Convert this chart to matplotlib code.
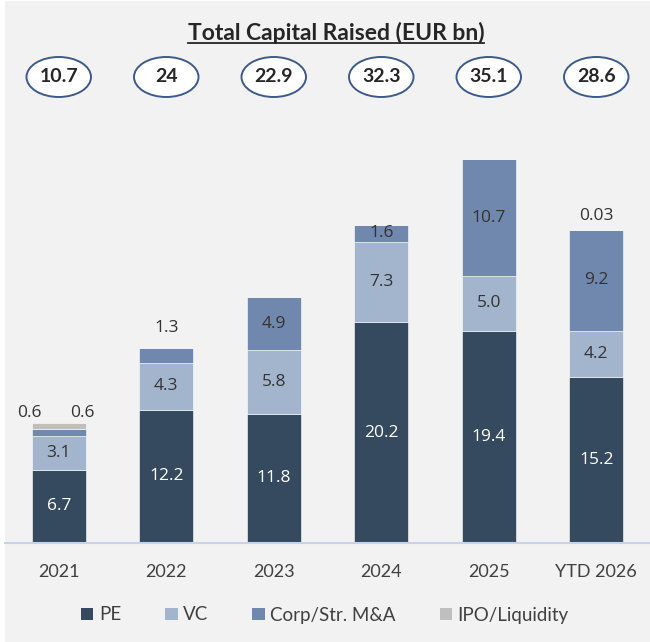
import numpy as np
import matplotlib
matplotlib.use("Agg")
import matplotlib.pyplot as plt
from matplotlib.patches import Ellipse, Patch, Rectangle
from matplotlib.lines import Line2D
import matplotlib.transforms as mtransforms

# data
years = ["2021", "2022", "2023", "2024", "2025", "YTD 2026"]
totals = ["10.7", "24", "22.9", "32.3", "35.1", "28.6"]
pe = [6.7, 12.2, 11.8, 20.2, 19.4, 15.2]
vc = [3.1, 4.3, 5.8, 7.3, 5.0, 4.2]
corp = [0.6, 1.3, 4.9, 1.6, 10.7, 9.2]
ipo = [0.6, 0.0, 0.0, 0.0, 0.0, 0.03]
series = [("PE", pe), ("VC", vc), ("Corp/Str. M&A", corp), ("IPO/Liquidity", ipo)]

colors = ["#35495f", "#a3b5cc", "#7088ad", "#bfbfbf"]
label_colors = ["white", "#333333", "#333333", "#333333"]
bg = "#f2f2f2"
FONT = "Lato"
LABEL_FONT = "Open Sans"

fig = plt.figure(figsize=(6.5, 6.42), dpi=100)
fig.patch.set_facecolor("white")
fig.patches.append(Rectangle((5 / 650, 0), 645 / 650, 641 / 642, transform=fig.transFigure,
                             facecolor=bg, edgecolor="none", zorder=-10))

ax = fig.add_axes([5 / 650, 99 / 642, 645 / 650, 443 / 642])
ax.set_facecolor("none")

x = np.arange(len(years))
bottom = np.zeros(len(years))
for k, (name, vals) in enumerate(series):
    vals = np.array(vals)
    ax.bar(x, vals, width=0.5, bottom=bottom, color=colors[k], edgecolor="white",
           linewidth=0.4, label=name)
    for i, v in enumerate(vals):
        if v <= 0:
            continue
        txt = f"{v:.2f}" if v < 0.1 else f"{v:.1f}"
        if v >= 1.5:
            ax.text(i, bottom[i] + v / 2, txt, ha="center", va="center",
                    color=label_colors[k], fontsize=12.5, family=LABEL_FONT)
    bottom = bottom + vals

# small segments labelled above the bars
tops = np.array(pe) + np.array(vc) + np.array(corp) + np.array(ipo)
ax.text(0 - 0.27, tops[0] + 0.9, "0.6", ha="center", va="center", color="#333333",
        fontsize=12.5, family=LABEL_FONT)
ax.text(0 + 0.22, tops[0] + 0.9, "0.6", ha="center", va="center", color="#333333",
        fontsize=12.5, family=LABEL_FONT)
ax.text(1, tops[1] + 1.9, f"{corp[1]:.1f}", ha="center", va="center", color="#333333",
        fontsize=12.5, family=LABEL_FONT)
ax.text(5, tops[5] + 1.3, f"{ipo[5]:.2f}", ha="center", va="center", color="#333333",
        fontsize=12.5, family=LABEL_FONT)

ax.set_xlim(-0.5, 5.5)
ax.set_ylim(0, 40.5)
ax.set_yticks([])
ax.set_xticks(x)
ax.set_xticklabels(years, fontsize=13, family=FONT, color="#404040")
ax.tick_params(axis="x", length=0, pad=15)
for s in ["top", "right", "left"]:
    ax.spines[s].set_visible(False)
ax.spines["bottom"].set_color("#c6d3ec")
ax.spines["bottom"].set_linewidth(1.5)

# total ellipses
blend = mtransforms.blended_transform_factory(ax.transData, fig.transFigure)
ey = 1 - 77 / 642
for i, t in enumerate(totals):
    e = Ellipse((i, ey), width=0.6, height=40 / 642, transform=blend,
                facecolor="white", edgecolor="#3d5a8a", linewidth=1.4, clip_on=False)
    fig.patches.append(e)
    fig.text(i, ey, t, transform=blend, ha="center", va="center",
             fontsize=14, fontweight="bold", family=FONT, color="#262626")

# title with underline
title_y = 1 - 40 / 642
title = fig.text(336 / 650, title_y, "Total Capital Raised (EUR bn)", ha="center",
                 va="baseline", fontsize=16.5, fontweight="bold", family=FONT, color="#262626")
fig.canvas.draw()
bb = title.get_window_extent()
base_y = fig.transFigure.transform((0, title_y))[1]
fig.lines.append(Line2D([bb.x0, bb.x1], [base_y - 3, base_y - 3], transform=None,
                        color="#262626", linewidth=1.3))

handles = [Patch(facecolor=colors[k], label=name) for k, (name, _) in enumerate(series)]
fig.legend(handles=handles, loc="center", bbox_to_anchor=(325 / 650, 1 - 615 / 642), ncol=4,
           frameon=False, handlelength=0.65, handleheight=0.65, handletextpad=0.3,
           columnspacing=2.35, prop={"family": FONT, "size": 13.5}, labelcolor="#404040")

fig.savefig("out.png", dpi=100, facecolor=fig.get_facecolor())
